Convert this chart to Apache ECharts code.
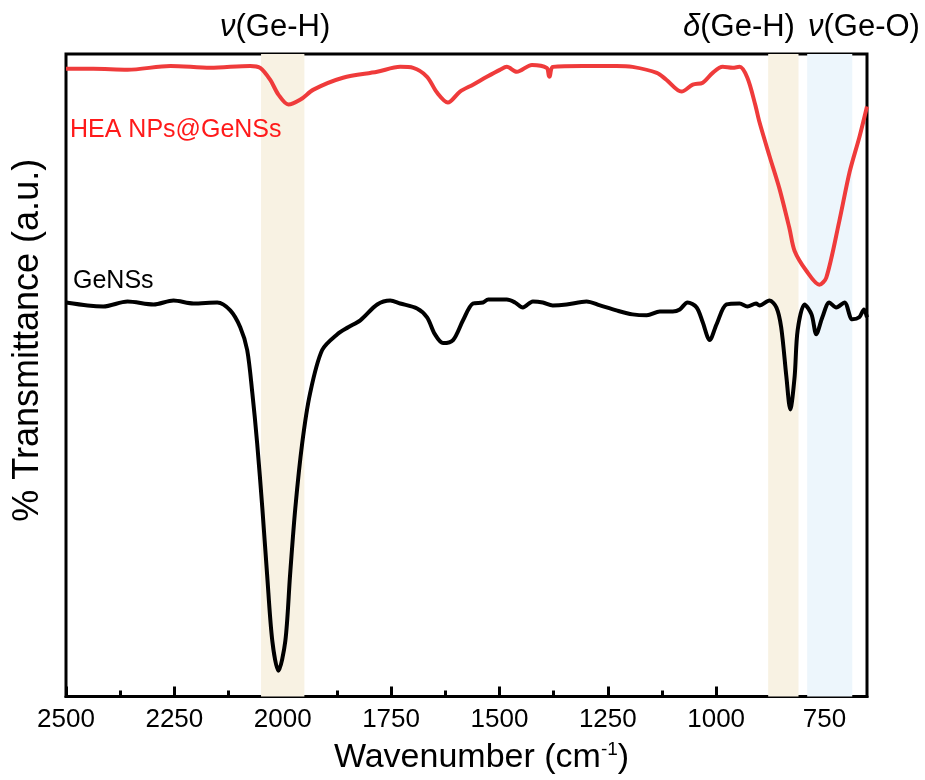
<!DOCTYPE html>
<html>
<head>
<meta charset="utf-8">
<script src="https://cdn.jsdelivr.net/npm/echarts@6/dist/echarts.min.js"></script>
<style>html,body{margin:0;padding:0;background:#fff}#c{width:925px;height:780px}</style>
</head>
<body>
<div id="c"></div>
<script>
// Wavenumber (cm-1) and transmittance (a.u.)
const heaWavenumber = [2500,2437,2358,2259,2167,2075,2052,2029,2010,1987,1959,1929,1861,1782,1729,1699,1667,1644,1619,1591,1561,1529,1499,1483,1460,1425,1391,1386,1384,1381,1377,1308,1230,1193,1137,1115,1080,1054,1031,1008,985,962,946,928,910,900,877,854,831,819,792,762,746,716,692,669,652];
const heaTransmittance = [634,634,633,637,635,637,635,623,608,598,603,613,625,631,636,635,626,610,600,611,618,626,633,636,631,638,635,627,626,633,636,637,637,636,630,623,611,618,620,630,636,635,636,625,598,580,546,513,473,450,430,416,423,480,530,566,596];

const geWavenumber = [2500,2450,2414,2358,2298,2252,2206,2151,2121,2098,2082,2070,2059,2047,2036,2024,2010,1994,1983,1971,1955,1937,1909,1874,1849,1821,1782,1752,1729,1690,1667,1649,1630,1607,1584,1561,1538,1526,1506,1483,1464,1446,1423,1400,1377,1345,1299,1268,1230,1193,1160,1130,1100,1084,1066,1045,1031,1015,999,976,946,928,908,900,877,861,850,838,829,819,812,796,780,769,755,739,723,704,686,670,659,652];
const geTransmittance = [398,395,394,399,396,400,397,398,390,373,350,306,256,190,123,56,26,56,123,190,256,306,350,366,373,380,396,400,397,392,383,366,357,360,380,397,398,401,401,401,398,393,399,398,395,396,399,395,390,386,385,389,389,391,398,393,378,360,376,396,397,394,397,395,400,393,373,323,290,323,370,396,386,366,383,398,393,398,381,383,391,383];

const majorTicks = [2500,2250,2000,1750,1500,1250,1000,750];
const minorTicks = [2375,2125,1875,1625,1375,1125,875];

const bandGeH = [2050, 1950];
const bandGeHbend = [880, 810];
const bandGeO = [790, 686];

const xMin = 652, xMax = 2500, yMin = 0, yMax = 649;

function zip(a, b) { return a.map((v, i) => [v, b[i]]); }

const chart = echarts.init(document.getElementById('c'), null, {renderer: 'canvas'});
const FONT = 'Liberation Sans, Arial, sans-serif';
const annRich = {i: {fontStyle: 'italic', fontSize: 31, fontFamily: FONT, fill: '#000'}};

chart.setOption({
  backgroundColor: '#fff',
  animation: false,
  grid: {left: 66, right: 58, top: 54, bottom: 77, show: true, borderColor: '#000', borderWidth: 3, backgroundColor: 'transparent'},
  xAxis: [{
    type: 'value', inverse: true, min: xMin, max: xMax,
    axisLine: {show: true, lineStyle: {color: '#000', width: 3}},
    axisTick: {show: true, inside: true, length: 10, customValues: majorTicks, lineStyle: {color: '#000', width: 3}},
    axisLabel: {show: true, customValues: majorTicks, formatter: v => String(v), color: '#000', fontSize: 26, fontFamily: FONT, margin: 10},
    splitLine: {show: false},
    name: '{a|Wavenumber (cm}{s|-1}{a|)}',
    nameLocation: 'middle', nameGap: 44,
    nameTextStyle: {padding: [0, 0, 0, 30], rich: {
      a: {fontSize: 34, fontFamily: FONT, color: '#000'},
      s: {fontSize: 19, fontFamily: FONT, color: '#000', padding: [0, 0, 16, 0]}
    }}
  }, {
    type: 'value', inverse: true, min: xMin, max: xMax, position: 'bottom',
    axisLine: {show: false},
    axisTick: {show: true, inside: true, length: 6, customValues: minorTicks, lineStyle: {color: '#000', width: 3}},
    axisLabel: {show: false},
    splitLine: {show: false}
  }],
  yAxis: {
    type: 'value', min: yMin, max: yMax,
    axisLine: {show: false}, axisTick: {show: false}, axisLabel: {show: false}, splitLine: {show: false},
    name: '% Transmittance (a.u.)', nameLocation: 'middle', nameGap: 20,
    nameTextStyle: {fontSize: 36, fontFamily: FONT, color: '#000', padding: [0, 0, 0, 70]}
  },
  series: [{
    type: 'line', data: [], silent: true, z: 1,
    markArea: {
      silent: true,
      data: [
        [{xAxis: bandGeH[0], itemStyle: {color: '#f8f2e3'}}, {xAxis: bandGeH[1]}],
        [{xAxis: bandGeHbend[0], itemStyle: {color: '#f8f2e3'}}, {xAxis: bandGeHbend[1]}],
        [{xAxis: bandGeO[0], itemStyle: {color: '#edf6fc'}}, {xAxis: bandGeO[1]}]
      ]
    }
  }, {
    name: 'HEA NPs@GeNSs', type: 'line', data: zip(heaWavenumber, heaTransmittance),
    showSymbol: false, smooth: 0.3, z: 3,
    lineStyle: {color: '#ef3b3b', width: 4}
  }, {
    name: 'GeNSs', type: 'line', data: zip(geWavenumber, geTransmittance),
    showSymbol: false, smooth: 0.3, z: 3,
    lineStyle: {color: '#000', width: 4}
  }],
  graphic: [
    {type: 'text', z: 100, left: 220, top: 12, style: {text: '{i|ν}(Ge-H)', font: '31px ' + FONT, fill: '#000', rich: annRich}},
    {type: 'text', z: 100, left: 683, top: 12, style: {text: '{i|δ}(Ge-H)', font: '31px ' + FONT, fill: '#000', rich: annRich}},
    {type: 'text', z: 100, left: 808, top: 12, style: {text: '{i|ν}(Ge-O)', font: '31px ' + FONT, fill: '#000', rich: annRich}},
    {type: 'text', z: 100, left: 70, top: 118, style: {text: 'HEA NPs@GeNSs', font: '25px ' + FONT, fill: '#ff1a1a'}},
    {type: 'text', z: 100, left: 73, top: 269, style: {text: 'GeNSs', font: '25px ' + FONT, fill: '#000'}}
  ]
});
</script>
</body>
</html>
